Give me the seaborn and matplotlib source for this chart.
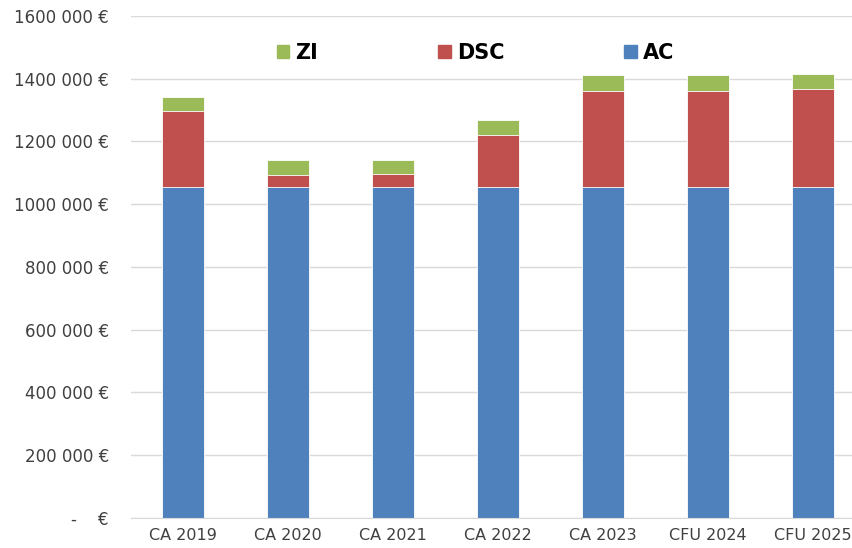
import numpy as np
import pandas as pd
import seaborn as sns
import matplotlib.pyplot as plt
from matplotlib.patches import Patch

# Budget par poste (en euros)
years = ['CA 2019', 'CA 2020', 'CA 2021', 'CA 2022', 'CA 2023', 'CFU 2024', 'CFU 2025']
ac = [1055000, 1055000, 1055000, 1055000, 1055000, 1055000, 1055000]
dsc = [242000, 38000, 41000, 166000, 306000, 306000, 311000]
zi = [45000, 48000, 45000, 47000, 51000, 51000, 49000]

yticks = [0, 200000, 400000, 600000, 800000, 1000000, 1200000, 1400000, 1600000]
ytick_labels = ['-    €', '200 000 €', '400 000 €', '600 000 €', '800 000 €',
                '1000 000 €', '1200 000 €', '1400 000 €', '1600 000 €']

COL_AC, COL_DSC, COL_ZI = '#4F81BD', '#C0504D', '#9BBB59'

if __name__ == '__main__':
    df = pd.DataFrame({'year': years, 'AC': ac, 'DSC': dsc, 'ZI': zi})
    df['AC_DSC'] = df['AC'] + df['DSC']
    df['total'] = df['AC_DSC'] + df['ZI']

    sns.set_style('white')
    plt.rcParams['font.family'] = ['DejaVu Sans']

    fig = plt.figure(figsize=(8.53, 5.48), dpi=100)
    ax = fig.add_axes([0.153, 0.0547, 0.862, 0.9163])

    # stacked bars: draw back to front
    kw = dict(x='year', ax=ax, width=0.4, edgecolor='white', linewidth=0.6, saturation=1)
    sns.barplot(data=df, y='total', color=COL_ZI, **kw)
    sns.barplot(data=df, y='AC_DSC', color=COL_DSC, **kw)
    sns.barplot(data=df, y='AC', color=COL_AC, **kw)

    ax.set_xlim(-0.5, 6.5)
    ax.set_ylim(0, 1600000)
    ax.set_yticks(yticks)
    ax.set_yticklabels(ytick_labels, fontsize=12, color='#404040')
    ax.set_xticks(range(len(years)))
    ax.set_xticklabels(years, fontsize=11.5, color='#404040')
    ax.set_xlabel('')
    ax.set_ylabel('')
    ax.tick_params(axis='y', length=0, pad=15.5)
    ax.tick_params(axis='x', length=0, pad=7.5)

    ax.set_axisbelow(True)
    ax.yaxis.grid(True, color='#d9d9d9', linewidth=1)
    for s in ['top', 'right', 'left']:
        ax.spines[s].set_visible(False)
    ax.spines['bottom'].set_color('#d9d9d9')

    handles = [Patch(color=COL_ZI), Patch(color=COL_DSC), Patch(color=COL_AC)]
    fig.legend(handles, ['ZI', 'DSC', 'AC'], ncol=3, loc='center',
               bbox_to_anchor=(0.5575, 0.903), frameon=False,
               prop={'weight': 'bold', 'size': 15}, labelcolor='black',
               handlelength=0.6, handleheight=0.6, handletextpad=0.3,
               columnspacing=5.75)

    plt.savefig('out.png', dpi=100)
    plt.close('all')
